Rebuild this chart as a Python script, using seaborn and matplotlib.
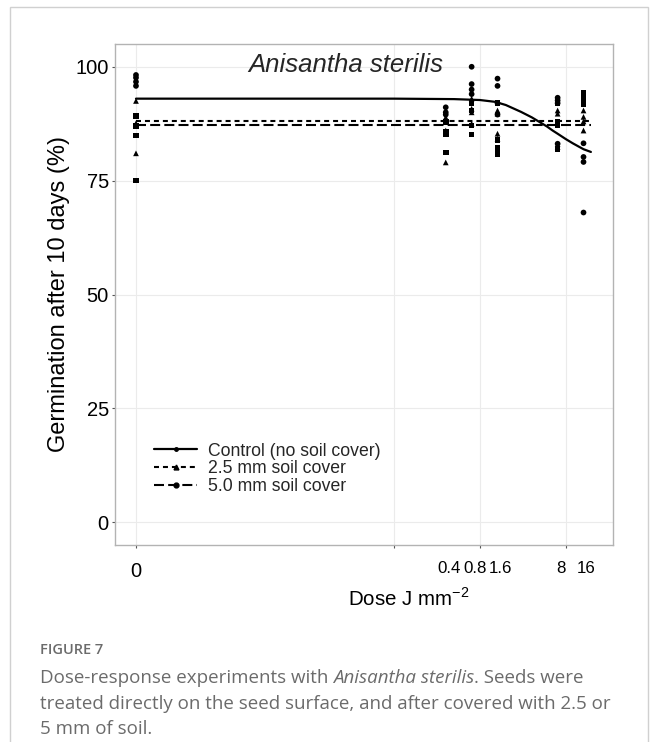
import numpy as np
import pandas as pd
import matplotlib
matplotlib.use("Agg")
import matplotlib.pyplot as plt
import seaborn as sns
from matplotlib.lines import Line2D
from matplotlib.patches import Rectangle
from matplotlib.ticker import FixedLocator, FixedFormatter
from matplotlib.transforms import ScaledTranslation

# Doses (J mm-2); dose 0 is drawn at 1e-4 on the log axis
doses = [0, 0.4, 0.8, 1.6, 8, 16]
dose_labels = ["0", "0.4", "0.8", "1.6", "8", "16"]
ZERO_POS = 1e-4

# Observed germination (%) per dose, 4 replicates per treatment
obs_control = [
    [98.2, 97.6, 96.7, 95.8],
    [91.1, 90.0, 89.5, 88.0],
    [100.0, 96.2, 95.0, 94.0],
    [97.4, 95.8, 92.0, 89.5],
    [93.2, 92.6, 92.0, 83.1],
    [83.2, 80.2, 79.1, 68.0],
]
obs_25mm = [
    [92.5, 87.6, 87.0, 81.0],
    [88.9, 88.3, 86.0, 79.0],
    [93.0, 90.8, 90.0, 87.5],
    [90.4, 89.7, 85.3, 84.2],
    [90.4, 89.7, 83.0, 82.4],
    [90.4, 89.0, 88.0, 86.0],
]
obs_50mm = [
    [89.2, 87.0, 84.9, 75.0],
    [87.8, 85.6, 85.1, 81.2],
    [92.0, 90.4, 87.1, 85.1],
    [92.0, 84.0, 82.2, 80.8],
    [92.0, 87.8, 87.1, 82.0],
    [94.2, 93.3, 92.6, 91.9],
]

# Fitted curves
curve_dose = [0, 0.1, 0.5, 1.0, 1.5, 2, 3, 4, 5, 6, 7, 8, 10, 12, 14, 16, 19.5]
curve_control = [93.0, 93.0, 92.9, 92.7, 92.3, 91.6, 90.1, 88.9, 87.8, 86.9,
                  86.0, 85.3, 84.1, 83.2, 82.5, 81.9, 81.3]
level_25mm = 88.1
level_50mm = 87.3
line_end = 19.5

groups = ["Control (no soil cover)", "2.5 mm soil cover", "5.0 mm soil cover"]

rows = []
for g, obs in zip(groups, [obs_control, obs_25mm, obs_50mm]):
    for d, vals in zip(doses, obs):
        for v in vals:
            rows.append({"dose": d if d > 0 else ZERO_POS, "germ": v, "group": g})
df = pd.DataFrame(rows)

curves = pd.DataFrame({
    "dose": [d if d > 0 else ZERO_POS for d in curve_dose],
    "germ": curve_control,
})

sns.set_theme(style="white")
plt.rcParams["font.family"] = ["Liberation Sans", "DejaVu Sans"]
plt.rcParams["mathtext.fontset"] = "custom"
plt.rcParams["mathtext.rm"] = "Liberation Sans"

fig = plt.figure(figsize=(6.58, 7.42), dpi=100)
ax = fig.add_axes([115 / 658, 1 - 545 / 742, 498 / 658, 501 / 742])

grid_c = "#ebebeb"
ax.set_xscale("log")
ax.set_xlim(10 ** -4.244, 10 ** 1.547)
ax.set_ylim(-5, 105)

major_x = [ZERO_POS, 0.1, 1, 10]
for xv in major_x:
    ax.axvline(xv, color=grid_c, lw=0.8, zorder=0)
for yv in [0, 25, 50, 75, 100]:
    ax.axhline(yv, color=grid_c, lw=0.8, zorder=0)

sns.scatterplot(data=df, x="dose", y="germ", style="group",
                markers={groups[0]: "o", groups[1]: "^", groups[2]: "s"},
                color="black", s=17, linewidth=0, legend=False, ax=ax, zorder=3)

sns.lineplot(data=curves, x="dose", y="germ", color="black", lw=1.6, ax=ax,
             zorder=4, legend=False)
ax.plot([ZERO_POS, line_end], [level_25mm, level_25mm], color="black", lw=1.5,
        dashes=(2.4, 1.9), zorder=4)
ax.plot([ZERO_POS, line_end], [level_50mm, level_50mm], color="black", lw=1.5,
        dashes=(4.8, 2.0), zorder=4)

ax.xaxis.set_major_locator(FixedLocator(major_x))
ax.xaxis.set_major_formatter(FixedFormatter(["0", "", "", ""]))
ax.xaxis.set_minor_locator(FixedLocator(doses[1:]))
ax.xaxis.set_minor_formatter(FixedFormatter(dose_labels[1:]))
ax.set_yticks([0, 25, 50, 75, 100])

ax.tick_params(axis="x", which="major", bottom=True, length=2.5, width=0.8,
               color="#555555", pad=10, labelsize=14.5, labelcolor="black")
ax.tick_params(axis="x", which="minor", bottom=True, length=0, pad=11.6,
               labelsize=12.2, labelcolor="black")
ax.tick_params(axis="y", left=True, length=2.5, width=0.8, color="#555555",
               pad=2, labelsize=14.5, labelcolor="black")
shift = ScaledTranslation(3 / 100, 0, fig.dpi_scale_trans)
for lab in ax.xaxis.get_minorticklabels():
    lab.set_transform(lab.get_transform() + shift)

for sp in ax.spines.values():
    sp.set_color("#b3b3b3")
    sp.set_linewidth(1.0)

ax.set_xlabel("Dose J mm$^{-2}$", fontsize=14.8, color="black")
ax.xaxis.set_label_coords(0.59, -0.085)
ax.set_ylabel("Germination after 10 days (%)", fontsize=17, color="black")
ax.yaxis.set_label_coords(-0.09, 0.5)

ax.text(0.464, 0.982, "Anisantha sterilis", transform=ax.transAxes,
        ha="center", va="top", fontsize=18.5, style="italic")

handles = [
    Line2D([], [], color="black", lw=1.6, marker="o", markersize=2.5),
    Line2D([], [], color="black", lw=1.5, dashes=(2.4, 1.9), marker="^", markersize=3.5),
    Line2D([], [], color="black", lw=1.5, dashes=(4.8, 2.0), marker="o", markersize=3.5),
]
ax.legend(handles, groups, loc="lower left", bbox_to_anchor=(0.065, 0.085),
          frameon=False, fontsize=12.7, handlelength=2.4, handletextpad=0.65,
          labelspacing=0.05, borderaxespad=0, numpoints=1)

# caption card
card = Rectangle((10 / 658, -0.01), 638 / 658, 1.0, transform=fig.transFigure,
                 fill=False, edgecolor="#d0d0d0", lw=1.0)
fig.patches.append(card)

cap_c = "#6b6b6b"
cap_font = ["Open Sans", "DejaVu Sans"]
fig.text(40 / 658, 1 - 650 / 742, "FIGURE 7", fontsize=10.5, color=cap_c,
         family=cap_font, weight="semibold", va="center")

fig.canvas.draw()
renderer = fig.canvas.get_renderer()


def draw_runs(x0, y, runs):
    x = x0
    for txt, st in runs:
        t = fig.text(x, y, txt, fontsize=13.5, color=cap_c, family=cap_font,
                     style=st, va="center")
        bb = t.get_window_extent(renderer=renderer)
        x += bb.width / fig.bbox.width


draw_runs(40 / 658, 1 - 678 / 742, [("Dose-response experiments with ", "normal"),
                                     ("Anisantha sterilis", "italic"),
                                     (". Seeds were", "normal")])
draw_runs(40 / 658, 1 - 704 / 742,
          [("treated directly on the seed surface, and after covered with 2.5 or", "normal")])
draw_runs(40 / 658, 1 - 729 / 742, [("5 mm of soil.", "normal")])

fig.savefig("out.png", dpi=100)
